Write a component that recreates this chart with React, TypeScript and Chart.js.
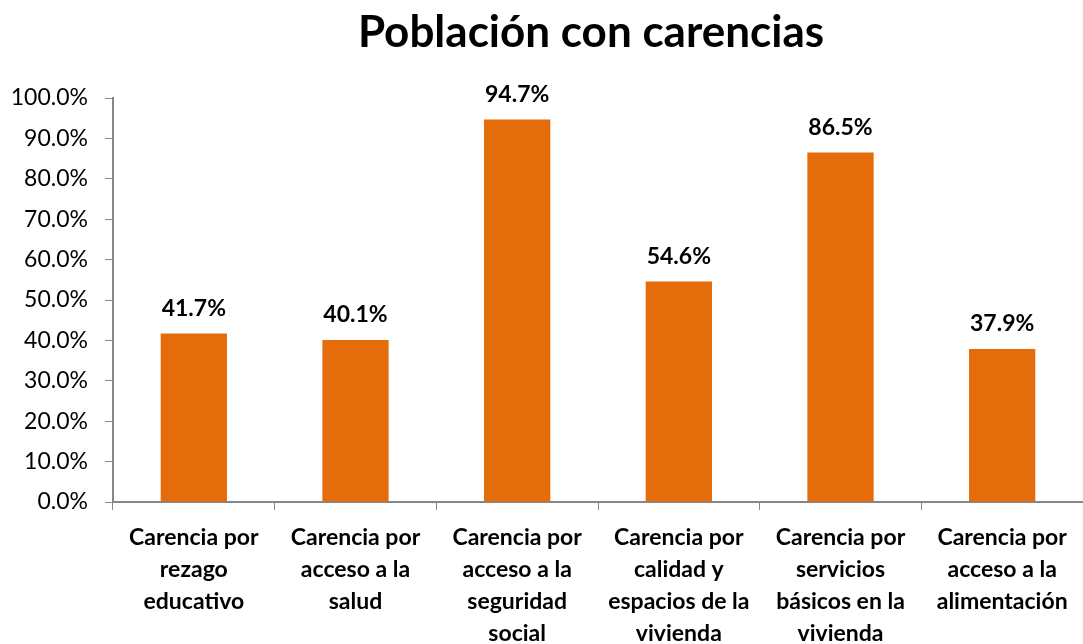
import React, { useEffect, useRef } from "react";
import { Chart, registerables } from "chart.js";

Chart.register(...registerables);

const TITLE = "Población con carencias";
const CATEGORIES: string[][] = [
  ["Carencia por", "rezago", "educativo"],
  ["Carencia por", "acceso a la", "salud"],
  ["Carencia por", "acceso a la", "seguridad", "social"],
  ["Carencia por", "calidad y", "espacios de la", "vivienda"],
  ["Carencia por", "servicios", "básicos en la", "vivienda"],
  ["Carencia por", "acceso a la", "alimentación"],
];
const VALUES = [41.7, 40.1, 94.7, 54.6, 86.5, 37.9];
const Y_MIN = 0;
const Y_MAX = 100;
const Y_STEP = 10;

const FONT = "Lato, 'Open Sans', sans-serif";
const BAR_COLOR = "#E46C0A";
const AXIS_COLOR = "#868686";

const dataLabelPlugin = {
  id: "dataLabels",
  afterDatasetsDraw(chart: any) {
    const ctx = chart.ctx;
    const meta = chart.getDatasetMeta(0);
    ctx.save();
    ctx.font = `bold 23px ${FONT}`;
    ctx.fillStyle = "#000000";
    ctx.textAlign = "center";
    ctx.textBaseline = "middle";
    meta.data.forEach((el: any, i: number) => {
      ctx.fillText(VALUES[i].toFixed(1) + "%", el.x, el.y - 25);
    });
    ctx.restore();
  },
};

const titlePlugin = {
  id: "customTitle",
  afterDraw(chart: any) {
    const ctx = chart.ctx;
    ctx.save();
    ctx.font = `bold 44px ${FONT}`;
    ctx.fillStyle = "#000000";
    ctx.textAlign = "center";
    ctx.textBaseline = "alphabetic";
    ctx.fillText(TITLE, 591, 47);
    ctx.restore();
  },
};

export default function App() {
  const ref = useRef<HTMLCanvasElement>(null);
  useEffect(() => {
    document.body.style.margin = "0";
    const chart = new Chart(ref.current!, {
      type: "bar",
      data: {
        labels: CATEGORIES,
        datasets: [
          {
            data: VALUES,
            backgroundColor: BAR_COLOR,
            borderWidth: 0,
            barPercentage: 0.41,
            categoryPercentage: 1,
          },
        ],
      },
      options: {
        responsive: false,
        animation: false,
        layout: { padding: { left: 0, right: 0, top: 98, bottom: 0 } },
        plugins: {
          legend: { display: false },
          tooltip: { enabled: false },
          title: { display: false },
        },
        scales: {
          x: {
            grid: {
              display: true,
              drawOnChartArea: false,
              drawTicks: true,
              tickLength: 8,
              color: AXIS_COLOR,
              offset: true,
            },
            border: { display: true, color: AXIS_COLOR, width: 2 },
            ticks: {
              color: "#000000",
              font: { family: FONT, size: 23, weight: "bold", lineHeight: 1.39 },
              padding: 12,
              maxRotation: 0,
              autoSkip: false,
            },
            afterFit(scale: any) {
              scale.height = 142;
            },
          },
          y: {
            min: Y_MIN,
            max: Y_MAX,
            grid: {
              display: true,
              drawOnChartArea: false,
              drawTicks: true,
              tickLength: 8,
              color: AXIS_COLOR,
            },
            border: { display: true, color: AXIS_COLOR, width: 2 },
            ticks: {
              stepSize: Y_STEP,
              color: "#000000",
              font: { family: FONT, size: 23 },
              padding: 17,
              callback: (v: any) => Number(v).toFixed(1) + "%",
            },
            afterFit(scale: any) {
              scale.width = 113;
            },
          },
        },
      },
      plugins: [dataLabelPlugin, titlePlugin],
    });
    return () => chart.destroy();
  }, []);
  return (
    <div style={{ position: "absolute", left: 0, top: 0, width: 1083, height: 644, background: "#fff" }}>
      <canvas ref={ref} width={1083} height={644} />
    </div>
  );
}
